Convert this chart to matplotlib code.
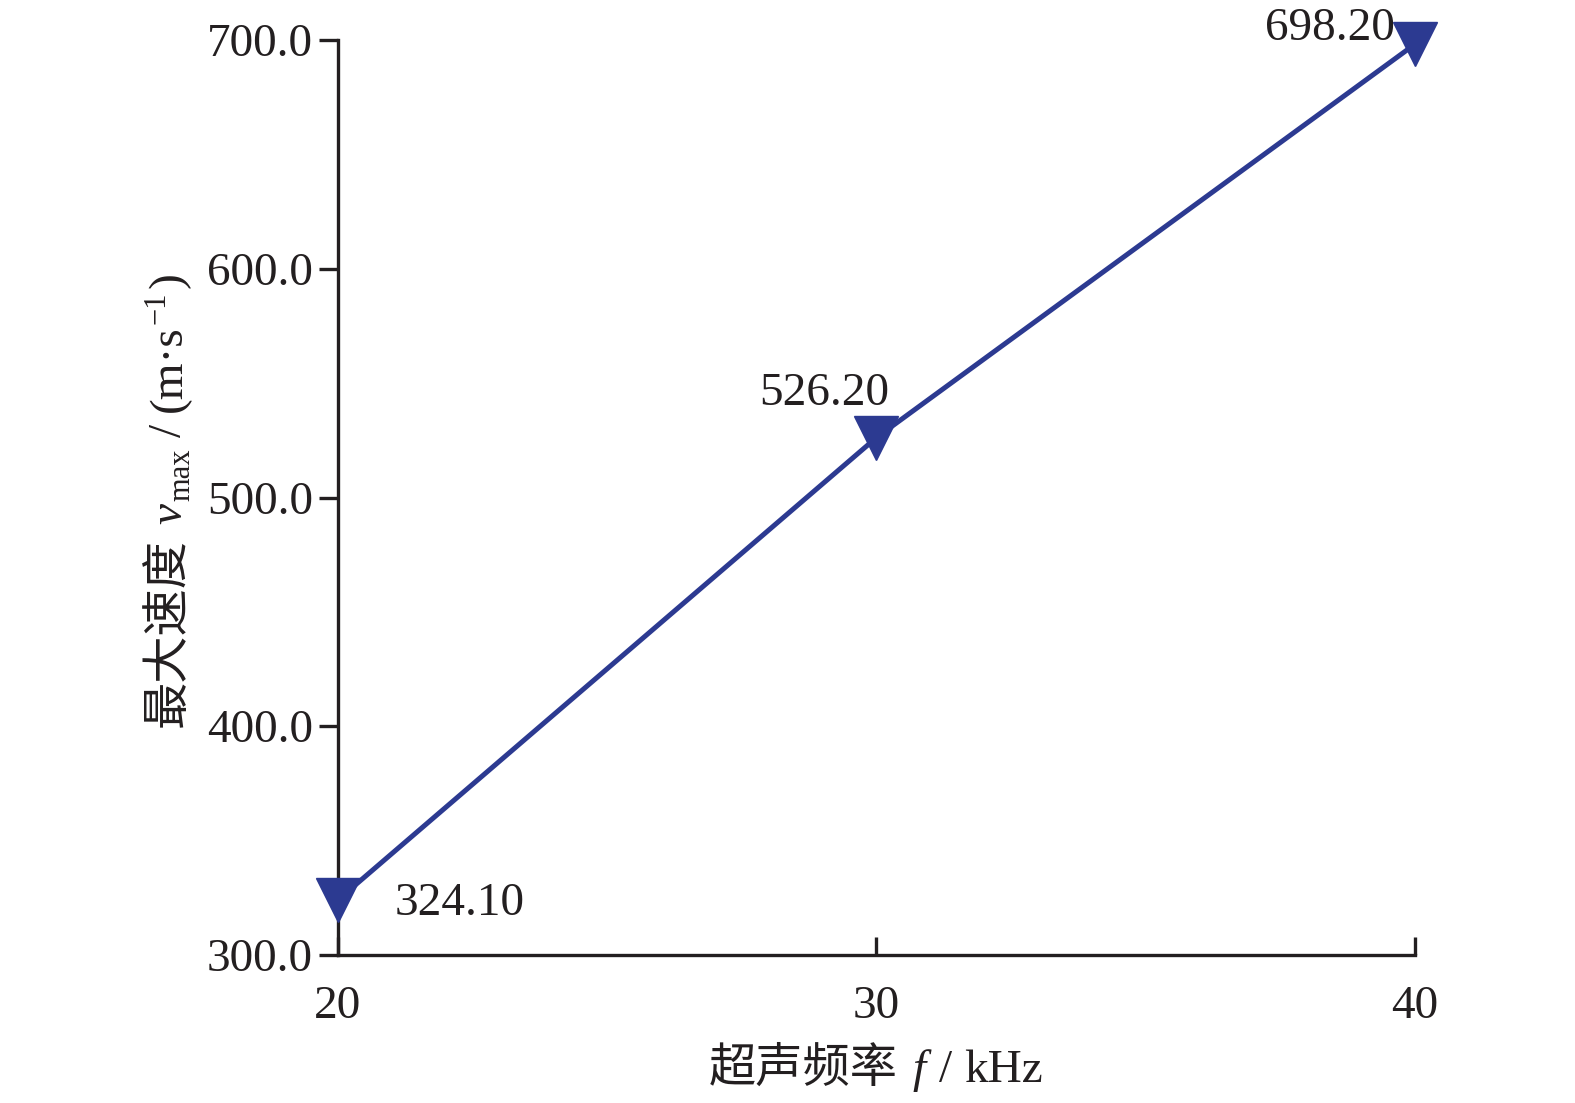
import matplotlib
matplotlib.use("Agg")
import matplotlib.pyplot as plt
from matplotlib.transforms import IdentityTransform

SERIF = "Liberation Serif"
CJK = "Noto Sans CJK SC"
plt.rcParams["font.family"] = [SERIF, CJK]

freq = [20, 30, 40]
vmax = [324.10, 526.20, 698.20]
point_labels = ["324.10", "526.20", "698.20"]
y_ticks = [300.0, 400.0, 500.0, 600.0, 700.0]
x_ticks = [20, 30, 40]

C_LINE = "#2C3A91"
C_AXIS = "#231F20"
FS = 34

fig = plt.figure(figsize=(15.75, 11.03), dpi=100)
ax = fig.add_axes([0.2146, 0.1342, 0.6838, 0.8295])

ax.plot(freq, vmax, color=C_LINE, linewidth=3.6, marker="v",
        markersize=31, clip_on=False, zorder=4)

# label offsets in pixels from the data point
offsets = [(57, -15, "left"), (13, 33, "right"), (-20, 4, "right")]
for xv, yv, lab, (dx, dy, ha) in zip(freq, vmax, point_labels, offsets):
    ax.annotate(lab, (xv, yv), xytext=(dx, dy), textcoords="offset pixels",
                ha=ha, va="baseline", fontsize=FS, color=C_AXIS)

ax.set_xlim(20, 40)
ax.set_ylim(300, 700)
ax.set_xticks(x_ticks)
ax.set_yticks(y_ticks)
ax.set_yticklabels([f"{v:.1f}" for v in y_ticks])

for s in ["top", "right"]:
    ax.spines[s].set_visible(False)
for s in ["left", "bottom"]:
    ax.spines[s].set_linewidth(2.4)
    ax.spines[s].set_color(C_AXIS)

ax.tick_params(axis="y", direction="out", length=14, width=2.4,
               labelsize=FS, pad=4, colors=C_AXIS)
ax.tick_params(axis="x", direction="in", length=13, width=2.4,
               labelsize=FS, pad=22, colors=C_AXIS)


# axis titles mix CJK and italic serif, so they are built from pieces
def draw_pieces(pieces, center, base, vertical=False):
    r = fig.canvas.get_renderer()
    widths = []
    for p in pieces:
        if isinstance(p, (int, float)):
            widths.append(p)
            continue
        s, fam, size, style, shift = p
        t = fig.text(0, 0, s, family=fam, fontsize=size, style=style)
        widths.append(t.get_window_extent(r).width)
        t.remove()
    pos = center - sum(widths) / 2
    for p, w in zip(pieces, widths):
        if not isinstance(p, (int, float)):
            s, fam, size, style, shift = p
            if vertical:
                xy = (base - shift, pos)
            else:
                xy = (pos, base + shift)
            fig.text(*xy, s, family=fam, fontsize=size, style=style,
                     color=C_AXIS, ha="left", va="baseline",
                     rotation=90 if vertical else 0,
                     rotation_mode="anchor", transform=IdentityTransform())
        pos += w


xlabel = [("超声频率", CJK, FS, "normal", 0), 14,
          ("f", SERIF, FS, "italic", 0), 14,
          ("/", SERIF, FS, "normal", 0), 12,
          ("kHz", SERIF, FS, "normal", 0)]
ylabel = [("最大速度", CJK, FS, "normal", 0), 14,
          ("v", SERIF, FS, "italic", 0), 2,
          ("max", SERIF, 22, "normal", -8), 12,
          ("/", SERIF, FS, "normal", 0), 12,
          ("(m·s", SERIF, FS, "normal", 0), 1,
          ("\u22121", SERIF, 22, "normal", 16), 3,
          (")", SERIF, FS, "normal", 0)]

draw_pieces(xlabel, 876, 21)
draw_pieces(ylabel, 603, 181, vertical=True)

fig.savefig("out.png", dpi=100)
